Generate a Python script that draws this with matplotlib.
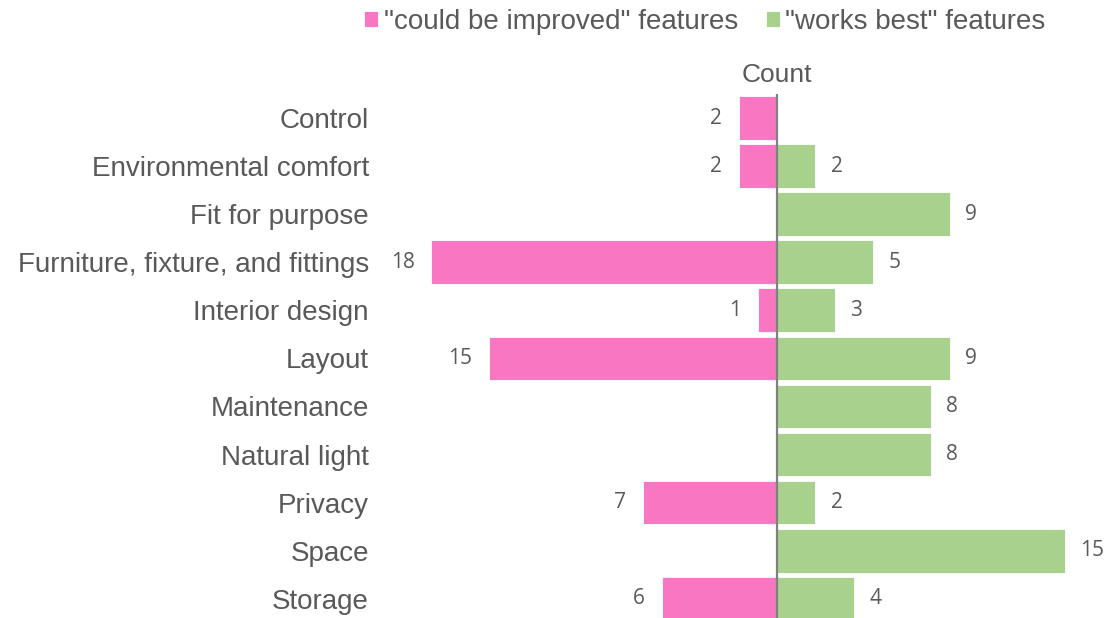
import numpy as np
import matplotlib
matplotlib.use("Agg")
import matplotlib.pyplot as plt

categories = ["Control", "Environmental comfort", "Fit for purpose",
              "Furniture, fixture, and fittings", "Interior design", "Layout",
              "Maintenance", "Natural light", "Privacy", "Space", "Storage"]
improved = [2, 2, 0, 18, 1, 15, 0, 0, 7, 0, 6]
works_best = [0, 2, 9, 5, 3, 9, 8, 8, 2, 15, 4]

PINK = "#F977C2"
GREEN = "#A9D18E"
TXT = "#595959"

fig = plt.figure(figsize=(11.08, 6.18), dpi=100)
ax = fig.add_axes([380 / 1108, 0.0, (1105 - 380) / 1108, 1 - 94 / 618])

y = np.arange(len(categories))
h = 0.91
b1 = ax.barh(y, [-v for v in improved], height=h, color=PINK, edgecolor="white", linewidth=0.6,
             label='"could be improved" features')
b2 = ax.barh(y, works_best, height=h, color=GREEN, edgecolor="white", linewidth=0.6,
             label='"works best" features')

for yi, v in zip(y, improved):
    if v:
        ax.annotate(str(v), (-v, yi), xytext=(-12, 0), textcoords="offset points",
                    ha="right", va="center", fontsize=15, color=TXT, family="Open Sans")
for yi, v in zip(y, works_best):
    if v:
        ax.annotate(str(v), (v, yi), xytext=(11, 0), textcoords="offset points",
                    ha="left", va="center", fontsize=15, color=TXT, family="Open Sans")

ax.axvline(0, color="#808080", lw=1.6, ymin=0, ymax=1.0)
ax.set_xlim(-20.68, 17.08)
ax.set_ylim(10.4, -0.5)
ax.set_yticks(y)
ax.set_yticklabels(categories, fontsize=20, color=TXT, family="Liberation Sans")
ax.tick_params(axis="y", length=0, pad=8)
ax.set_xticks([])
for s in ax.spines.values():
    s.set_visible(False)

fig.text(777 / 1108, 1 - 75 / 618, "Count", ha="center", va="center",
         fontsize=19, color=TXT, family="Liberation Sans")

fig.legend(handles=[b1, b2], loc="center", bbox_to_anchor=(705 / 1108, 1 - 22 / 618), ncol=2,
           frameon=False, prop={"family": "Liberation Sans", "size": 20}, labelcolor=TXT,
           handlelength=0.5, handleheight=0.5, handletextpad=0.2, columnspacing=1.0)

fig.savefig("out.png", dpi=100)
